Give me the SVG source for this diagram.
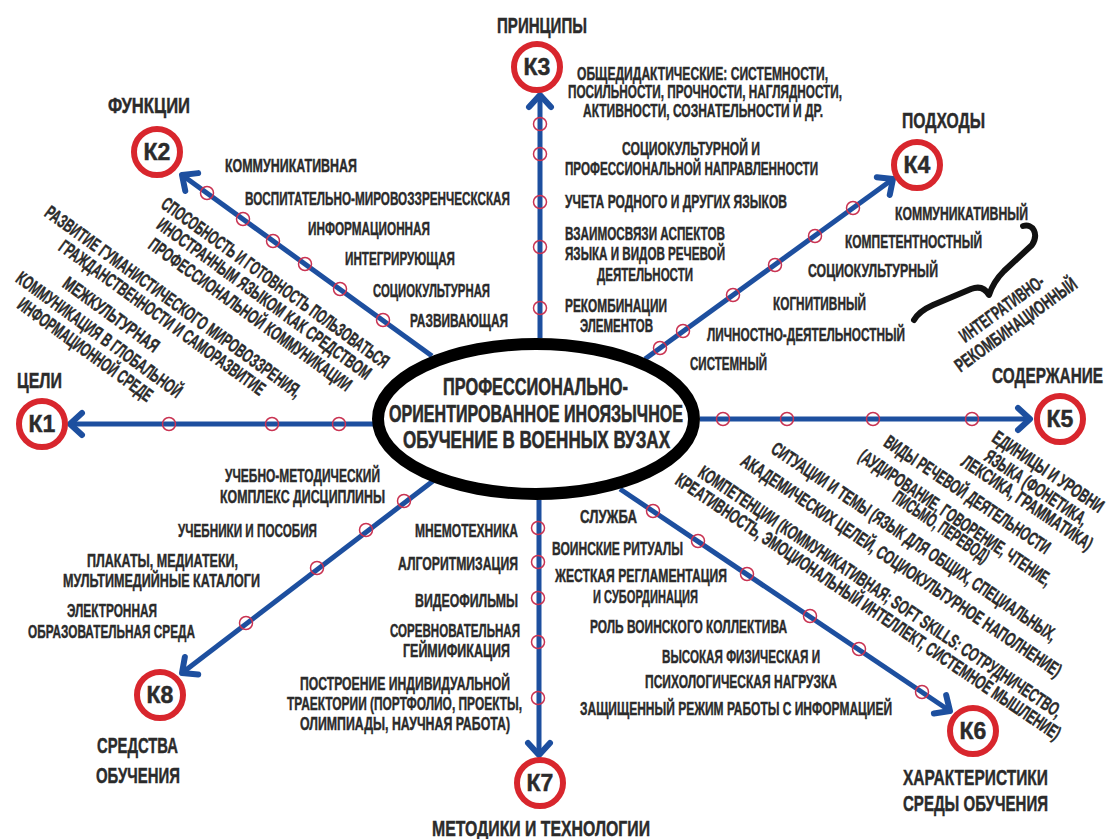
<svg xmlns="http://www.w3.org/2000/svg" width="1111" height="839" viewBox="0 0 1111 839">
  <defs>
    <style>
      .t { font-family: "Liberation Sans Narrow", "Liberation Sans", Arial, sans-serif; font-weight: 700; font-size: 19px; fill: #2b2b2b; stroke: #2b2b2b; stroke-width: 0.45px; }
      .h { font-size: 22px; }
      .c { font-size: 24.5px; stroke-width: 0.6px; }
      .k { font-size: 23px; text-anchor: middle; }
      .ring { fill: #ffffff; stroke: #d8262d; stroke-width: 6; }
      .link { fill: none; stroke: #1d4f9f; stroke-width: 5; marker-end: url(#chev); }
      .tick { fill: none; stroke: #c93352; stroke-width: 1.5; }
    </style>
    <marker id="chev" markerUnits="userSpaceOnUse" viewBox="-20 -16 26 32" markerWidth="26" markerHeight="32" refX="0" refY="0" orient="auto">
      <path d="M-12 -11 L0 0 L-12 11" fill="none" stroke="#1d4f9f" stroke-width="6" stroke-linecap="round" stroke-linejoin="round"/>
    </marker>
  </defs>
  <rect width="1111" height="839" fill="#ffffff"/>

  <!-- connectors with their tick rings -->
  <g id="connectors">
    <path class="link" d="M373 424 H70"/>
    <path class="link" d="M432 356 L182 175"/>
    <path class="link" d="M540 338 V95"/>
    <path class="link" d="M645 359 L893 179"/>
    <path class="link" d="M700 419 H1030"/>
    <path class="link" d="M620 489 L950 711"/>
    <path class="link" d="M539 500 V755"/>
    <path class="link" d="M433 481 L182 673"/>
    <g class="tick">
      <circle cx="169" cy="424" r="6.5"/><circle cx="272" cy="424" r="6.5"/><circle cx="339" cy="424" r="6.5"/>
      <circle cx="207" cy="193" r="6.5"/><circle cx="243" cy="219" r="6.5"/><circle cx="273" cy="241" r="6.5"/><circle cx="305" cy="264" r="6.5"/><circle cx="340" cy="289" r="6.5"/><circle cx="383" cy="320" r="6.5"/>
      <circle cx="540" cy="124" r="6.5"/><circle cx="540" cy="154" r="6.5"/><circle cx="540" cy="202" r="6.5"/><circle cx="540" cy="247" r="6.5"/><circle cx="540" cy="308" r="6.5"/>
      <circle cx="660" cy="348" r="6.5"/><circle cx="683" cy="331" r="6.5"/><circle cx="733" cy="295" r="6.5"/><circle cx="775" cy="265" r="6.5"/><circle cx="815" cy="236" r="6.5"/><circle cx="853" cy="208" r="6.5"/>
      <circle cx="723" cy="419" r="6.5"/><circle cx="787" cy="419" r="6.5"/><circle cx="873" cy="419" r="6.5"/><circle cx="972" cy="419" r="6.5"/>
      <circle cx="653" cy="511" r="6.5"/><circle cx="698" cy="541" r="6.5"/><circle cx="747" cy="574" r="6.5"/><circle cx="810" cy="616" r="6.5"/><circle cx="859" cy="649" r="6.5"/><circle cx="922" cy="692" r="6.5"/>
      <circle cx="538" cy="528" r="6.5"/><circle cx="538" cy="562" r="6.5"/><circle cx="538" cy="598" r="6.5"/><circle cx="538" cy="642" r="6.5"/><circle cx="538" cy="698" r="6.5"/>
      <circle cx="404" cy="501" r="6.5"/><circle cx="366" cy="530" r="6.5"/><circle cx="317" cy="568" r="6.5"/><circle cx="246" cy="623" r="6.5"/>
    </g>
  </g>

  <!-- central topic -->
  <g id="center">
    <ellipse cx="536" cy="419" rx="158" ry="75" fill="#ffffff" stroke="#000000" stroke-width="12"/>
    <text class="t c" x="443" y="395" textLength="185" lengthAdjust="spacingAndGlyphs">ПРОФЕССИОНАЛЬНО-</text>
    <text class="t c" x="389" y="422" textLength="294" lengthAdjust="spacingAndGlyphs">ОРИЕНТИРОВАННОЕ ИНОЯЗЫЧНОЕ</text>
    <text class="t c" x="403" y="448" textLength="267" lengthAdjust="spacingAndGlyphs">ОБУЧЕНИЕ В ВОЕННЫХ ВУЗАХ</text>
  </g>

  <!-- K1: goals -->
  <g id="k1">
    <circle class="ring" cx="42" cy="424" r="23"/>
    <text class="t k" x="42" y="432">К1</text>
    <text class="t h" x="17" y="388" textLength="45" lengthAdjust="spacingAndGlyphs">ЦЕЛИ</text>
    <g class="t">
      <text transform="translate(173 302) rotate(36)" x="-156" y="6" textLength="312" lengthAdjust="spacingAndGlyphs">РАЗВИТИЕ ГУМАНИСТИЧЕСКОГО МИРОВОЗЗРЕНИЯ,</text>
      <text transform="translate(162 318) rotate(36)" x="-125" y="6" textLength="250" lengthAdjust="spacingAndGlyphs">ГРАЖДАНСТВЕННОСТИ И САМОРАЗВИТИЕ</text>
      <text transform="translate(111 315) rotate(36)" x="-57" y="6" textLength="114" lengthAdjust="spacingAndGlyphs">МЕЖКУЛЬТУРНАЯ</text>
      <text transform="translate(99 335) rotate(36)" x="-100" y="6" textLength="200" lengthAdjust="spacingAndGlyphs">КОММУНИКАЦИЯ В ГЛОБАЛЬНОЙ</text>
      <text transform="translate(85 350) rotate(36)" x="-81" y="6" textLength="162" lengthAdjust="spacingAndGlyphs">ИНФОРМАЦИОННОЙ СРЕДЕ</text>
      <text transform="translate(275 283) rotate(36)" x="-138" y="6" textLength="276" lengthAdjust="spacingAndGlyphs">СПОСОБНОСТЬ И ГОТОВНОСТЬ ПОЛЬЗОВАТЬСЯ</text>
      <text transform="translate(264 299) rotate(36)" x="-130" y="6" textLength="260" lengthAdjust="spacingAndGlyphs">ИНОСТРАННЫМ ЯЗЫКОМ КАК СРЕДСТВОМ</text>
      <text transform="translate(250 315) rotate(36)" x="-123" y="6" textLength="246" lengthAdjust="spacingAndGlyphs">ПРОФЕССИОНАЛЬНОЙ КОММУНИКАЦИИ</text>
    </g>
  </g>

  <!-- K2: functions -->
  <g id="k2">
    <circle class="ring" cx="157" cy="152" r="23"/>
    <text class="t k" x="157" y="160">К2</text>
    <text class="t h" x="108" y="113" textLength="82" lengthAdjust="spacingAndGlyphs">ФУНКЦИИ</text>
    <g class="t">
      <text x="225" y="172" textLength="132" lengthAdjust="spacingAndGlyphs">КОММУНИКАТИВНАЯ</text>
      <text x="245" y="205" textLength="265" lengthAdjust="spacingAndGlyphs">ВОСПИТАТЕЛЬНО-МИРОВОЗЗРЕНЧЕСКСКАЯ</text>
      <text x="308" y="235" textLength="122" lengthAdjust="spacingAndGlyphs">ИНФОРМАЦИОННАЯ</text>
      <text x="345" y="265" textLength="110" lengthAdjust="spacingAndGlyphs">ИНТЕГРИРУЮЩАЯ</text>
      <text x="373" y="297" textLength="117" lengthAdjust="spacingAndGlyphs">СОЦИОКУЛЬТУРНАЯ</text>
      <text x="410" y="327" textLength="98" lengthAdjust="spacingAndGlyphs">РАЗВИВАЮЩАЯ</text>
    </g>
  </g>

  <!-- K3: principles -->
  <g id="k3">
    <circle class="ring" cx="537" cy="67" r="23"/>
    <text class="t k" x="537" y="75">К3</text>
    <text class="t h" x="497" y="33" textLength="90" lengthAdjust="spacingAndGlyphs">ПРИНЦИПЫ</text>
    <g class="t">
      <text x="577" y="80" textLength="251" lengthAdjust="spacingAndGlyphs">ОБЩЕДИДАКТИЧЕСКИЕ: СИСТЕМНОСТИ,</text>
      <text x="568" y="98" textLength="274" lengthAdjust="spacingAndGlyphs">ПОСИЛЬНОСТИ, ПРОЧНОСТИ, НАГЛЯДНОСТИ,</text>
      <text x="583" y="117" textLength="240" lengthAdjust="spacingAndGlyphs">АКТИВНОСТИ, СОЗНАТЕЛЬНОСТИ И ДР.</text>
      <text x="622" y="155" textLength="138" lengthAdjust="spacingAndGlyphs">СОЦИОКУЛЬТУРНОЙ И</text>
      <text x="565" y="175" textLength="253" lengthAdjust="spacingAndGlyphs">ПРОФЕССИОНАЛЬНОЙ НАПРАВЛЕННОСТИ</text>
      <text x="565" y="208" textLength="222" lengthAdjust="spacingAndGlyphs">УЧЕТА РОДНОГО И ДРУГИХ ЯЗЫКОВ</text>
      <text x="565" y="240" textLength="160" lengthAdjust="spacingAndGlyphs">ВЗАИМОСВЯЗИ АСПЕКТОВ</text>
      <text x="565" y="260" textLength="160" lengthAdjust="spacingAndGlyphs">ЯЗЫКА И ВИДОВ РЕЧЕВОЙ</text>
      <text x="597" y="281" textLength="96" lengthAdjust="spacingAndGlyphs">ДЕЯТЕЛЬНОСТИ</text>
      <text x="565" y="312" textLength="102" lengthAdjust="spacingAndGlyphs">РЕКОМБИНАЦИИ</text>
      <text x="580" y="332" textLength="73" lengthAdjust="spacingAndGlyphs">ЭЛЕМЕНТОВ</text>
    </g>
  </g>

  <!-- K4: approaches -->
  <g id="k4">
    <circle class="ring" cx="917" cy="165" r="23"/>
    <text class="t k" x="917" y="173">К4</text>
    <text class="t h" x="902" y="128" textLength="83" lengthAdjust="spacingAndGlyphs">ПОДХОДЫ</text>
    <g class="t">
      <text x="895" y="220" textLength="133" lengthAdjust="spacingAndGlyphs">КОММУНИКАТИВНЫЙ</text>
      <text x="845" y="248" textLength="137" lengthAdjust="spacingAndGlyphs">КОМПЕТЕНТНОСТНЫЙ</text>
      <text x="808" y="277" textLength="130" lengthAdjust="spacingAndGlyphs">СОЦИОКУЛЬТУРНЫЙ</text>
      <text x="773" y="310" textLength="93" lengthAdjust="spacingAndGlyphs">КОГНИТИВНЫЙ</text>
      <text x="707" y="341" textLength="198" lengthAdjust="spacingAndGlyphs">ЛИЧНОСТНО-ДЕЯТЕЛЬНОСТНЫЙ</text>
      <text x="690" y="370" textLength="77" lengthAdjust="spacingAndGlyphs">СИСТЕМНЫЙ</text>
      <text transform="translate(1002 309) rotate(-36)" x="-50" y="6" textLength="100" lengthAdjust="spacingAndGlyphs">ИНТЕГРАТИВНО-</text>
      <text transform="translate(1016 325) rotate(-36)" x="-73" y="6" textLength="146" lengthAdjust="spacingAndGlyphs">РЕКОМБИНАЦИОННЫЙ</text>
    </g>
    <!-- curly brace grouping the approaches -->
    <path d="M1023 226 C1033 223 1039 234 1032 245 L1004 271 C996 279 992 286 989 295 C985 288 979 286 971 289 L933 305 C924 309 918 313 914 320" fill="none" stroke="#111111" stroke-width="6" stroke-linecap="round" stroke-linejoin="round"/>
  </g>

  <!-- K5: content -->
  <g id="k5">
    <circle class="ring" cx="1060" cy="419" r="23"/>
    <text class="t k" x="1060" y="427">К5</text>
    <text class="t h" x="992" y="383" textLength="111" lengthAdjust="spacingAndGlyphs">СОДЕРЖАНИЕ</text>
    <g class="t">
      <text transform="translate(1048 472) rotate(34)" x="-65" y="6" textLength="130" lengthAdjust="spacingAndGlyphs">ЕДИНИЦЫ И УРОВНИ</text>
      <text transform="translate(1036 488) rotate(34)" x="-60" y="6" textLength="120" lengthAdjust="spacingAndGlyphs">ЯЗЫКА (ФОНЕТИКА,</text>
      <text transform="translate(1027 503) rotate(34)" x="-77" y="6" textLength="154" lengthAdjust="spacingAndGlyphs">ЛЕКСИКА, ГРАММАТИКА)</text>
      <text transform="translate(967 495) rotate(34)" x="-98" y="6" textLength="196" lengthAdjust="spacingAndGlyphs">ВИДЫ РЕЧЕВОЙ ДЕЯТЕЛЬНОСТИ</text>
      <text transform="translate(955 518) rotate(34)" x="-114" y="6" textLength="228" lengthAdjust="spacingAndGlyphs">(АУДИРОВАНИЕ, ГОВОРЕНИЕ, ЧТЕНИЕ,</text>
      <text transform="translate(941 527) rotate(34)" x="-56" y="6" textLength="112" lengthAdjust="spacingAndGlyphs">ПИСЬМО, ПЕРЕВОД)</text>
      <text transform="translate(914 542) rotate(34)" x="-170" y="6" textLength="340" lengthAdjust="spacingAndGlyphs">СИТУАЦИИ И ТЕМЫ (ЯЗЫК ДЛЯ ОБЩИХ, СПЕЦИАЛЬНЫХ,</text>
      <text transform="translate(901 566) rotate(34)" x="-191" y="6" textLength="382" lengthAdjust="spacingAndGlyphs">АКАДЕМИЧЕСКИХ ЦЕЛЕЙ, СОЦИОКУЛЬТУРНОЕ НАПОЛНЕНИЕ)</text>
    </g>
  </g>

  <!-- K6: learning environment -->
  <g id="k6">
    <circle class="ring" cx="973" cy="731" r="23"/>
    <text class="t k" x="973" y="739">К6</text>
    <text class="t h" x="903" y="785" textLength="145" lengthAdjust="spacingAndGlyphs">ХАРАКТЕРИСТИКИ</text>
    <text class="t h" x="903" y="811" textLength="145" lengthAdjust="spacingAndGlyphs">СРЕДЫ ОБУЧЕНИЯ</text>
    <g class="t">
      <text transform="translate(880 592) rotate(34)" x="-217" y="6" textLength="434" lengthAdjust="spacingAndGlyphs">КОМПЕТЕНЦИИ (КОММУНИКАТИВНАЯ; SOFT SKILLS: СОТРУДНИЧЕСТВО,</text>
      <text transform="translate(868 607) rotate(34)" x="-230" y="6" textLength="460" lengthAdjust="spacingAndGlyphs">КРЕАТИВНОСТЬ, ЭМОЦИОНАЛЬНЫЙ ИНТЕЛЛЕКТ, СИСТЕМНОЕ МЫШЛЕНИЕ)</text>
      <text x="580" y="523" textLength="57" lengthAdjust="spacingAndGlyphs">СЛУЖБА</text>
      <text x="552" y="555" textLength="131" lengthAdjust="spacingAndGlyphs">ВОИНСКИЕ РИТУАЛЫ</text>
      <text x="555" y="582" textLength="172" lengthAdjust="spacingAndGlyphs">ЖЕСТКАЯ РЕГЛАМЕНТАЦИЯ</text>
      <text x="593" y="603" textLength="105" lengthAdjust="spacingAndGlyphs">И СУБОРДИНАЦИЯ</text>
      <text x="590" y="633" textLength="197" lengthAdjust="spacingAndGlyphs">РОЛЬ ВОИНСКОГО КОЛЛЕКТИВА</text>
      <text x="662" y="663" textLength="158" lengthAdjust="spacingAndGlyphs">ВЫСОКАЯ ФИЗИЧЕСКАЯ И</text>
      <text x="645" y="688" textLength="192" lengthAdjust="spacingAndGlyphs">ПСИХОЛОГИЧЕСКАЯ НАГРУЗКА</text>
      <text x="580" y="715" textLength="312" lengthAdjust="spacingAndGlyphs">ЗАЩИЩЕННЫЙ РЕЖИМ РАБОТЫ С ИНФОРМАЦИЕЙ</text>
    </g>
  </g>

  <!-- K7: methods and technologies -->
  <g id="k7">
    <circle class="ring" cx="540" cy="783" r="23"/>
    <text class="t k" x="540" y="791">К7</text>
    <text class="t h" x="432" y="836" textLength="218" lengthAdjust="spacingAndGlyphs">МЕТОДИКИ И ТЕХНОЛОГИИ</text>
    <g class="t">
      <text x="415" y="537" textLength="103" lengthAdjust="spacingAndGlyphs">МНЕМОТЕХНИКА</text>
      <text x="398" y="570" textLength="120" lengthAdjust="spacingAndGlyphs">АЛГОРИТМИЗАЦИЯ</text>
      <text x="415" y="607" textLength="103" lengthAdjust="spacingAndGlyphs">ВИДЕОФИЛЬМЫ</text>
      <text x="390" y="637" textLength="130" lengthAdjust="spacingAndGlyphs">СОРЕВНОВАТЕЛЬНАЯ</text>
      <text x="403" y="657" textLength="107" lengthAdjust="spacingAndGlyphs">ГЕЙМИФИКАЦИЯ</text>
      <text x="300" y="690" textLength="210" lengthAdjust="spacingAndGlyphs">ПОСТРОЕНИЕ ИНДИВИДУАЛЬНОЙ</text>
      <text x="287" y="710" textLength="235" lengthAdjust="spacingAndGlyphs">ТРАЕКТОРИИ (ПОРТФОЛИО, ПРОЕКТЫ,</text>
      <text x="300" y="730" textLength="210" lengthAdjust="spacingAndGlyphs">ОЛИМПИАДЫ, НАУЧНАЯ РАБОТА)</text>
    </g>
  </g>

  <!-- K8: teaching aids -->
  <g id="k8">
    <circle class="ring" cx="160" cy="695" r="23"/>
    <text class="t k" x="160" y="703">К8</text>
    <text class="t h" x="97" y="753" textLength="81" lengthAdjust="spacingAndGlyphs">СРЕДСТВА</text>
    <text class="t h" x="96" y="783" textLength="84" lengthAdjust="spacingAndGlyphs">ОБУЧЕНИЯ</text>
    <g class="t">
      <text x="225" y="482" textLength="155" lengthAdjust="spacingAndGlyphs">УЧЕБНО-МЕТОДИЧЕСКИЙ</text>
      <text x="220" y="503" textLength="165" lengthAdjust="spacingAndGlyphs">КОМПЛЕКС ДИСЦИПЛИНЫ</text>
      <text x="178" y="537" textLength="139" lengthAdjust="spacingAndGlyphs">УЧЕБНИКИ И ПОСОБИЯ</text>
      <text x="87" y="567" textLength="151" lengthAdjust="spacingAndGlyphs">ПЛАКАТЫ, МЕДИАТЕКИ,</text>
      <text x="63" y="587" textLength="197" lengthAdjust="spacingAndGlyphs">МУЛЬТИМЕДИЙНЫЕ КАТАЛОГИ</text>
      <text x="67" y="617" textLength="90" lengthAdjust="spacingAndGlyphs">ЭЛЕКТРОННАЯ</text>
      <text x="28" y="638" textLength="167" lengthAdjust="spacingAndGlyphs">ОБРАЗОВАТЕЛЬНАЯ СРЕДА</text>
    </g>
  </g>
</svg>
